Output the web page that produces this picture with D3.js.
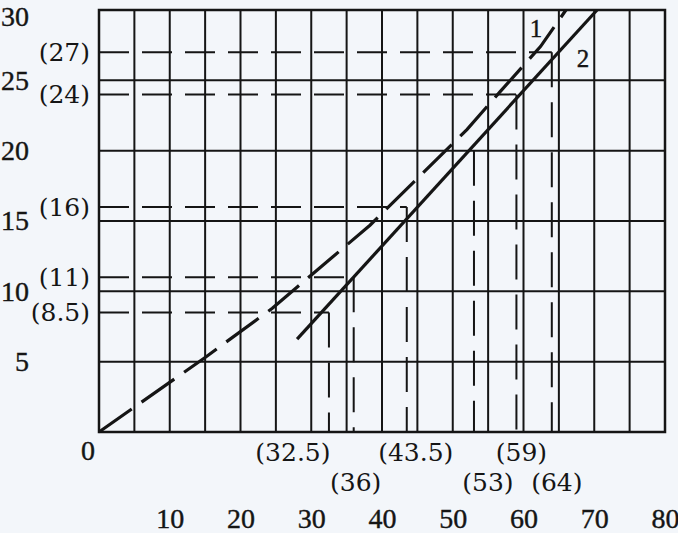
<!DOCTYPE html>
<html><head><meta charset="utf-8">
<script src="https://cdn.jsdelivr.net/npm/d3@7"></script>
<style>html,body{margin:0;padding:0;background:#f3f6fa;} svg{display:block}</style>
</head><body><svg id="c" width="678" height="533"></svg>
<script>
// ---- data ----
const xTicks = [10, 20, 30, 40, 50, 60, 70, 80];
const yTicks = [5, 10, 15, 20, 25, 30];
const gridX = [0, 5, 10, 15, 20, 25, 30, 35, 40, 45, 50, 55, 60, 65, 70, 75, 80];
const gridY = [0, 5, 10, 15, 20, 25, 30];
const line1 = [[0, 0], [15, 5.3], [24.5, 8.8], [38.3, 14.7], [52, 21.5], [56.7, 24.2], [62.4, 27.4], [66, 30]];
const line2 = [[28, 6.6], [70.4, 30]];
const markX = [32.5, 36, 43.5, 53, 59, 64];
const markY = [8.5, 11, 16, 20, 24, 27];
const markXLabels = ["(32.5)", "(36)", "(43.5)", "(53)", "(59)", "(64)"];
const markYLabels = ["(8.5)", "(11)", "(16)", "", "(24)", "(27)"];
const seriesLabels = ["1", "2"];

// ---- drawing ----
const svg = d3.select("#c");
const x = d3.scaleLinear().domain([0, 80]).range([99, 665]);
const y = d3.scaleLinear().domain([0, 30]).range([432, 10]);
const ink = "#151515";
const serif = "'Liberation Serif','Times New Roman',serif";
const serif2 = "'DejaVu Serif',serif";

// grid
svg.append("g").selectAll("line").data(gridX).join("line")
  .attr("x1", d => x(d)).attr("x2", d => x(d)).attr("y1", y(0)).attr("y2", y(30))
  .attr("stroke", ink).attr("stroke-width", 2);
svg.append("g").selectAll("line").data(gridY).join("line")
  .attr("x1", x(0)).attr("x2", x(80)).attr("y1", d => y(d)).attr("y2", d => y(d))
  .attr("stroke", ink).attr("stroke-width", 2);
svg.append("rect").attr("x", x(0)).attr("y", y(30)).attr("width", x(80) - x(0)).attr("height", y(0) - y(30))
  .attr("fill", "none").attr("stroke", ink).attr("stroke-width", 2.5);

// reference dashed lines
const marks = markX.map((mx, i) => ({x: mx, y: markY[i], lx: markXLabels[i], ly: markYLabels[i], row: i % 2}));
svg.append("g").selectAll("line").data(marks.filter(d => d.ly)).join("line")
  .attr("x1", x(0)).attr("x2", d => x(d.x)).attr("y1", d => y(d.y)).attr("y2", d => y(d.y))
  .attr("stroke", ink).attr("stroke-width", 2).attr("stroke-dasharray", "30,13");
svg.append("g").selectAll("line").data(marks).join("line")
  .attr("x1", d => x(d.x)).attr("x2", d => x(d.x)).attr("y1", d => y(d.y)).attr("y2", y(0))
  .attr("stroke", ink).attr("stroke-width", 2).attr("stroke-dasharray", "35,15");

// series lines
const lg = d3.line().x(d => x(d[0])).y(d => y(d[1]));
svg.append("path").attr("d", lg(line1)).attr("fill", "none").attr("stroke", ink)
  .attr("stroke-width", 3.2).attr("stroke-dasharray", "40,12");
svg.append("path").attr("d", lg(line2)).attr("fill", "none").attr("stroke", ink)
  .attr("stroke-width", 3.2);

// axes (text only)
const ax = svg.append("g").attr("transform", `translate(0,505)`)
  .call(d3.axisBottom(x).tickValues(xTicks).tickSize(0));
ax.select(".domain").remove();
ax.selectAll("text").attr("font-family", serif).attr("font-size", 28).attr("fill", ink)
  .attr("stroke", ink).attr("stroke-width", 0.4);
const ay = svg.append("g").attr("transform", `translate(32,0)`)
  .call(d3.axisLeft(y).tickValues(yTicks).tickSize(0));
ay.select(".domain").remove();
ay.selectAll("text").attr("font-family", serif).attr("font-size", 28).attr("fill", ink)
  .attr("stroke", ink).attr("stroke-width", 0.4)
  .attr("dy", d => d === 30 ? "0.56em" : "0.32em");
svg.append("text").attr("x", x(0) - 11).attr("y", y(0) + 28).attr("text-anchor", "middle")
  .attr("font-family", serif).attr("font-size", 28).attr("fill", ink)
  .attr("stroke", ink).attr("stroke-width", 0.4).text("0");

// annotation labels
svg.append("g").selectAll("text").data(marks.filter(d => d.ly)).join("text")
  .attr("x", 90).attr("y", d => y(d.y) + 9).attr("text-anchor", "end")
  .attr("font-family", serif2).attr("font-size", 25).attr("fill", ink).text(d => d.ly);
const labelDx = [-36, 2, 9, 14, 5, 5];
svg.append("g").selectAll("text").data(marks).join("text")
  .attr("x", (d, i) => x(d.x) + labelDx[i]).attr("y", d => d.row ? 491 : 461).attr("text-anchor", "middle")
  .attr("font-family", serif2).attr("font-size", 25).attr("fill", ink).text(d => d.lx);

// series labels
svg.append("text").attr("x", x(line1[line1.length - 1][0]) - 30).attr("y", 37).attr("text-anchor", "middle")
  .attr("font-family", serif).attr("font-size", 25).attr("fill", ink)
  .attr("stroke", ink).attr("stroke-width", 0.4).text(seriesLabels[0]);
svg.append("text").attr("x", x(line2[1][0]) - 14).attr("y", 67).attr("text-anchor", "middle")
  .attr("font-family", serif).attr("font-size", 25).attr("fill", ink)
  .attr("stroke", ink).attr("stroke-width", 0.4).text(seriesLabels[1]);
</script></body></html>
